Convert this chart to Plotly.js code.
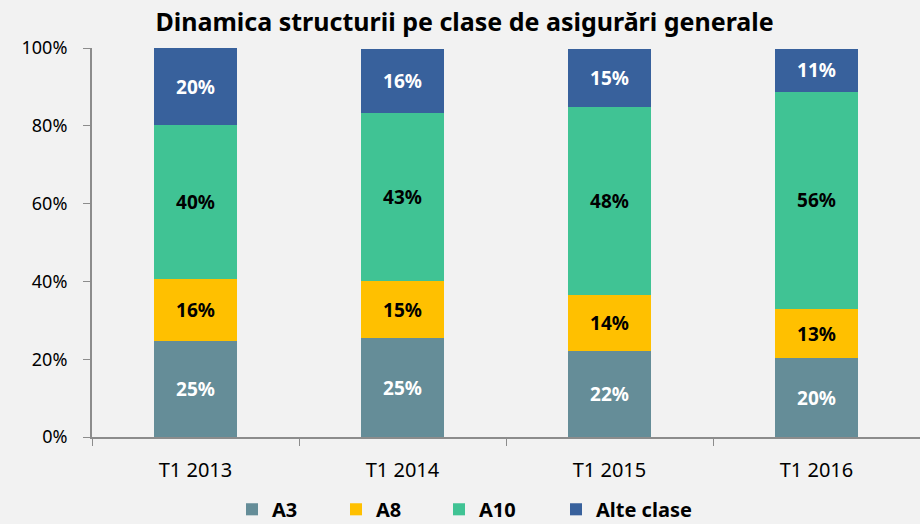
<!DOCTYPE html>
<html>
<head>
<meta charset="utf-8">
<script src="https://cdn.plot.ly/plotly-3.0.1.min.js"></script>
<style>html,body{margin:0;padding:0;background:#f2f2f2;}#chart{width:920px;height:524px;}</style>
</head>
<body>
<div id="chart"></div>
<script>
const categories = ["T1 2013", "T1 2014", "T1 2015", "T1 2016"];
const seriesNames = ["A3", "A8", "A10", "Alte clase"];
const a3 = [24.7, 25.4, 22.0, 20.2];
const a8 = [15.9, 14.6, 14.4, 12.6];
const a10 = [39.6, 43.4, 48.4, 56.0];
const alte = [19.8, 16.4, 15.0, 11.0];
const yTicks = [0, 20, 40, 60, 80, 100];

const colors = ["#658d98", "#ffc000", "#40c394", "#38619c"];
const textColors = ["#ffffff", "#000000", "#000000", "#ffffff"];
const allSeries = [a3, a8, a10, alte];
const legendIds = ["legend", "legend2", "legend3", "legend4"];
const legendX = [232, 336, 439, 556];
const FONT = "Noto Sans, Open Sans, sans-serif";

const traces = allSeries.map((vals, i) => ({
  type: "bar",
  name: seriesNames[i],
  x: categories,
  y: vals,
  legend: legendIds[i],
  marker: { color: colors[i], line: { width: 0 } },
  texttemplate: "%{y:.0f}%",
  textposition: "inside",
  insidetextanchor: "middle",
  textangle: 0,
  textfont: { family: FONT, size: 19, color: textColors[i], weight: "bold" },
  hoverinfo: "skip"
}));

const layout = {
  width: 920,
  height: 524,
  paper_bgcolor: "#f2f2f2",
  plot_bgcolor: "#f2f2f2",
  barmode: "stack",
  bargap: 0.6,
  margin: { l: 92, r: 0, t: 48, b: 87 },
  title: {
    text: "<b>Dinamica structurii pe clase de asigurări generale</b>",
    font: { family: FONT, size: 25, color: "#000000" },
    x: 0.505, xanchor: "center",
    y: 0.958, yanchor: "middle", yref: "container"
  },
  showlegend: true,
  xaxis: {
    type: "category",
    showline: true,
    linecolor: "#8c8c8c",
    linewidth: 2,
    ticks: "outside",
    tickson: "boundaries",
    ticklen: 7,
    tickcolor: "#8c8c8c",
    tickwidth: 1,
    showgrid: false,
    ticklabelstandoff: 14,
    tickfont: { family: FONT, size: 20, color: "#000000" },
    fixedrange: true
  },
  yaxis: {
    range: [0, 100],
    tickvals: yTicks,
    ticktext: yTicks.map(v => v + "%"),
    showline: true,
    linecolor: "#8c8c8c",
    linewidth: 2,
    ticks: "outside",
    ticklen: 7,
    tickcolor: "#8c8c8c",
    tickwidth: 1,
    showgrid: false,
    zeroline: false,
    ticklabelstandoff: 12,
    tickfont: { family: FONT, size: 18, color: "#000000" },
    fixedrange: true
  }
};

legendIds.forEach((id, i) => {
  layout[id] = {
    orientation: "h",
    x: legendX[i] / 920, xanchor: "left", xref: "container",
    y: 0.028, yanchor: "middle", yref: "container",
    font: { family: FONT, size: 20, color: "#000000", weight: "bold" },
    bgcolor: "rgba(0,0,0,0)"
  };
});

Plotly.newPlot("chart", traces, layout, { staticPlot: true, displayModeBar: false });
</script>
</body>
</html>
